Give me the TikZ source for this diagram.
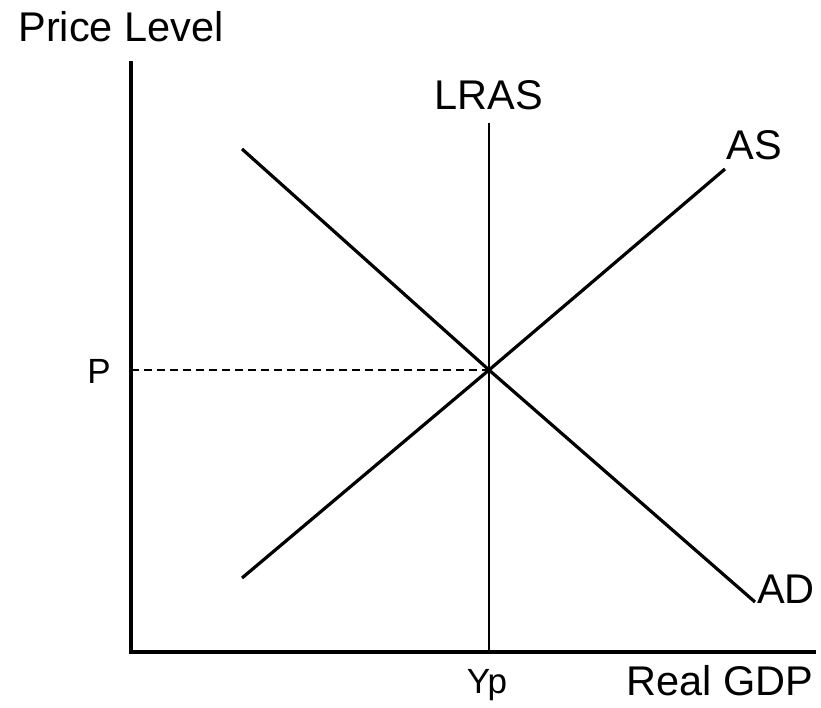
\documentclass[tikz,border=0pt]{standalone}
\usepackage{fontspec}
\setmainfont{Liberation Sans}
\usetikzlibrary{positioning,calc}
\tikzset{
  axisline/.style={line width=3.2pt, line cap=rect},
  curveline/.style={line width=3.2pt},
  lrasline/.style={line width=1.8pt},
  guideline/.style={line width=1.3pt, dash pattern=on 8pt off 5pt},
  biglabel/.style={anchor=base, inner sep=0pt, font=\fontsize{41.5}{41.5}\selectfont},
  ticklabel/.style={anchor=base, inner sep=0pt, font=\fontsize{35}{35}\selectfont}
}

\begin{document}
\begin{tikzpicture}[x=1pt, y=1pt]
    \useasboundingbox (0,0) rectangle (821,707);

    %% axes
    \coordinate (origin) at (131,55);
    \coordinate (ytop) at (131,644);
    \coordinate (xend) at (814,55);
    \draw[axisline] (ytop) -- (origin) -- (xend);

    %% LRAS
    \coordinate (lrastop) at (489,584);
    \coordinate (lrasbot) at (489,55);
    \draw[lrasline] (lrastop) -- (lrasbot);

    %% AD and AS
    \coordinate (eq) at (489,337);
    \coordinate (adstart) at (242,558);
    \coordinate (adend) at (755,105);
    \coordinate (asstart) at (242,129);
    \coordinate (asend) at (725,538);
    \draw[curveline] (adstart) -- (eq) -- (adend);
    \draw[curveline] (asstart) -- (eq) -- (asend);

    %% price guide
    \coordinate (pmark) at (131,337);
    \draw[guideline] (pmark) -- (eq);

    %% labels
    \node[biglabel] (pricelevel) at (121,665) {Price Level};
    \node[biglabel] (lraslabel) at (489,597) {LRAS};
    \node[biglabel] (aslabel) at (754,547) {AS};
    \node[biglabel] (adlabel) at (786,104) {AD};
    \node[biglabel] (realgdp) at (720,12) {Real GDP};
    \node[ticklabel] (plabel) at (99,323) {P};
    \node[ticklabel] (yplabel) at (487,14) {Yp};

\end{tikzpicture}
\end{document}
